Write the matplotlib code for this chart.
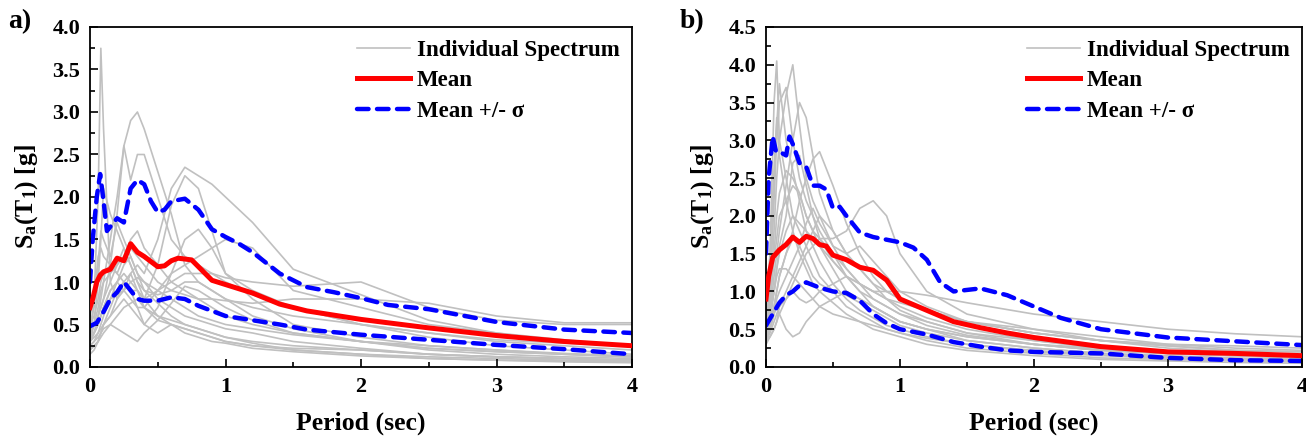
import matplotlib
matplotlib.use("Agg")
import matplotlib.pyplot as plt
from matplotlib.ticker import MultipleLocator

plt.rcParams['font.family'] = ['Liberation Serif', 'DejaVu Sans']
plt.rcParams['font.weight'] = 'bold'
plt.rcParams['mathtext.fontset'] = 'custom'
plt.rcParams['mathtext.rm'] = 'Liberation Serif:bold'
plt.rcParams['mathtext.it'] = 'Liberation Serif:bold'
plt.rcParams['mathtext.bf'] = 'Liberation Serif:bold'

# Common period grid for individual spectra
T_ind = [0, 0.03, 0.06, 0.08, 0.1, 0.15, 0.2, 0.25, 0.3, 0.35, 0.4, 0.5, 0.6, 0.7,
         0.8, 0.9, 1.0, 1.2, 1.5, 2.0, 2.5, 3.0, 3.5, 4.0]

spectra_a = [
    [0.3, 0.8, 2.0, 3.75, 2.8, 1.0, 0.8, 0.9, 1.1, 0.9, 0.7, 0.55, 0.5, 0.45, 0.4, 0.35, 0.3, 0.25, 0.2, 0.15, 0.12, 0.1, 0.08, 0.07],
    [0.4, 0.5, 0.6, 0.7, 0.8, 1.2, 1.8, 2.6, 2.9, 3.0, 2.8, 2.3, 1.8, 1.2, 1.0, 0.9, 0.8, 0.6, 0.45, 0.3, 0.22, 0.18, 0.15, 0.12],
    [0.3, 0.4, 0.6, 0.8, 1.0, 1.5, 2.0, 2.6, 2.2, 2.5, 2.5, 2.0, 1.5, 1.3, 1.2, 1.1, 1.0, 0.85, 0.7, 0.5, 0.4, 0.3, 0.25, 0.2],
    [0.3, 0.35, 0.4, 0.45, 0.5, 0.7, 0.9, 1.0, 1.1, 1.2, 1.1, 1.5, 2.1, 2.35, 2.25, 2.15, 2.0, 1.7, 1.15, 0.85, 0.55, 0.4, 0.32, 0.25],
    [0.25, 0.3, 0.4, 0.5, 0.6, 0.8, 1.0, 1.1, 1.0, 0.9, 0.8, 1.2, 1.9, 2.25, 2.1, 1.6, 1.1, 0.9, 0.7, 0.5, 0.35, 0.25, 0.2, 0.15],
    [0.2, 0.25, 0.3, 0.4, 0.5, 0.6, 0.7, 0.8, 0.7, 0.6, 0.5, 0.7, 1.1, 1.5, 1.62, 1.4, 1.1, 0.8, 0.5, 0.35, 0.25, 0.2, 0.15, 0.12],
    [0.3, 0.4, 0.5, 0.6, 0.7, 0.9, 1.0, 0.9, 0.8, 0.7, 0.7, 0.9, 1.1, 1.2, 1.3, 1.4, 1.5, 1.4, 0.9, 0.7, 0.5, 0.4, 0.3, 0.25],
    [0.5, 0.6, 0.8, 1.0, 1.1, 1.2, 1.1, 1.0, 0.9, 0.9, 0.8, 0.9, 1.0, 1.1, 1.1, 1.1, 1.05, 1.0, 0.95, 1.0, 0.7, 0.55, 0.5, 0.5],
    [0.4, 0.5, 0.7, 0.9, 1.0, 1.1, 1.2, 1.3, 1.4, 1.3, 1.2, 1.0, 0.9, 0.85, 0.8, 0.8, 0.78, 0.75, 0.8, 0.8, 0.75, 0.6, 0.52, 0.52],
    [0.5, 0.7, 1.2, 1.6, 1.5, 1.3, 1.7, 1.5, 1.3, 1.1, 1.0, 0.8, 0.7, 0.6, 0.55, 0.5, 0.45, 0.4, 0.3, 0.22, 0.15, 0.12, 0.1, 0.08],
    [0.3, 0.5, 1.0, 1.5, 2.1, 1.8, 1.6, 1.4, 1.2, 1.0, 0.8, 0.6, 0.5, 0.4, 0.35, 0.3, 0.28, 0.22, 0.18, 0.13, 0.1, 0.08, 0.07, 0.06],
    [0.6, 0.8, 1.3, 1.4, 1.3, 1.2, 1.1, 1.3, 1.5, 1.6, 1.4, 1.2, 1.0, 0.9, 0.8, 0.7, 0.6, 0.5, 0.4, 0.3, 0.22, 0.18, 0.15, 0.12],
    [0.2, 0.25, 0.3, 0.35, 0.4, 0.5, 0.6, 0.7, 0.75, 0.8, 0.7, 0.6, 0.55, 0.5, 0.45, 0.4, 0.35, 0.3, 0.25, 0.2, 0.15, 0.12, 0.1, 0.08],
    [0.15, 0.2, 0.3, 0.4, 0.5, 0.6, 0.8, 1.0, 0.9, 0.7, 0.5, 0.4, 0.5, 0.45, 0.4, 0.35, 0.3, 0.25, 0.22, 0.2, 0.15, 0.12, 0.1, 0.08],
    [0.35, 0.4, 0.5, 0.6, 0.7, 0.9, 1.0, 1.2, 1.3, 1.1, 0.9, 0.85, 0.9, 1.0, 1.0, 0.9, 0.8, 0.7, 0.6, 0.5, 0.4, 0.32, 0.28, 0.25],
    [0.25, 0.3, 0.35, 0.4, 0.45, 0.5, 0.45, 0.4, 0.35, 0.3, 0.4, 0.55, 0.75, 0.95, 0.9, 0.8, 0.7, 0.55, 0.4, 0.3, 0.2, 0.15, 0.12, 0.1],
    [0.4, 0.5, 0.6, 0.7, 0.8, 1.0, 1.2, 1.4, 1.2, 1.0, 0.9, 0.75, 0.6, 0.5, 0.45, 0.4, 0.35, 0.28, 0.2, 0.15, 0.1, 0.08, 0.06, 0.05],
    [0.3, 0.4, 0.5, 0.6, 0.7, 0.8, 0.85, 0.9, 1.0, 1.05, 1.0, 0.9, 0.8, 0.7, 0.6, 0.55, 0.5, 0.45, 0.38, 0.3, 0.25, 0.2, 0.16, 0.13],
]

spectra_b = [
    [0.4, 1.5, 3.5, 4.05, 3.0, 2.5, 2.0, 1.8, 1.6, 1.4, 1.2, 1.0, 0.8, 0.7, 0.6, 0.5, 0.45, 0.35, 0.25, 0.18, 0.12, 0.1, 0.08, 0.07],
    [0.5, 1.2, 2.5, 3.2, 3.75, 3.0, 2.6, 2.2, 1.8, 1.6, 1.4, 1.1, 0.9, 0.75, 0.65, 0.55, 0.5, 0.4, 0.3, 0.2, 0.15, 0.12, 0.1, 0.08],
    [0.4, 1.0, 2.2, 3.0, 3.5, 3.7, 3.0, 2.5, 2.2, 2.0, 1.8, 1.5, 1.2, 1.0, 0.8, 0.7, 0.6, 0.5, 0.4, 0.3, 0.22, 0.18, 0.15, 0.12],
    [0.35, 0.8, 1.8, 2.5, 3.0, 3.6, 4.0, 3.2, 2.5, 2.2, 2.0, 1.6, 1.3, 1.1, 0.9, 0.8, 0.7, 0.55, 0.42, 0.3, 0.22, 0.18, 0.15, 0.12],
    [0.4, 0.7, 1.2, 1.5, 1.8, 2.4, 3.0, 3.5, 3.3, 2.8, 2.3, 1.8, 1.5, 1.3, 1.1, 1.0, 0.9, 0.75, 0.6, 0.45, 0.35, 0.28, 0.22, 0.2],
    [0.35, 0.5, 0.8, 1.0, 1.2, 1.5, 1.8, 2.2, 2.5, 2.75, 2.85, 2.4, 1.9, 1.5, 1.2, 1.0, 0.9, 0.75, 0.6, 0.45, 0.35, 0.28, 0.22, 0.2],
    [0.35, 0.4, 0.5, 0.6, 0.7, 0.9, 1.1, 1.3, 1.5, 1.6, 1.7, 1.7, 1.8, 2.1, 2.2, 2.0, 1.5, 1.0, 0.7, 0.5, 0.35, 0.25, 0.2, 0.15],
    [0.5, 0.7, 1.0, 1.3, 1.5, 1.8, 2.0, 1.9, 1.8, 1.7, 1.6, 1.4, 1.2, 1.1, 1.0, 1.0, 1.0, 0.95, 0.85, 0.7, 0.6, 0.5, 0.44, 0.4],
    [0.45, 0.8, 1.5, 2.0, 2.3, 2.6, 2.5, 2.3, 2.0, 1.8, 1.6, 1.3, 1.0, 0.9, 0.8, 0.7, 0.6, 0.5, 0.4, 0.3, 0.25, 0.2, 0.18, 0.16],
    [0.3, 0.5, 0.7, 0.8, 0.7, 0.5, 0.4, 0.45, 0.6, 0.7, 0.8, 0.9, 1.0, 0.9, 0.8, 0.7, 0.6, 0.5, 0.35, 0.25, 0.18, 0.14, 0.11, 0.09],
    [0.4, 0.6, 0.8, 1.0, 1.2, 1.5, 1.7, 1.6, 1.4, 1.2, 1.1, 1.0, 0.95, 0.85, 0.75, 0.65, 0.55, 0.45, 0.35, 0.25, 0.18, 0.15, 0.12, 0.1],
    [0.5, 0.9, 1.4, 1.7, 2.0, 2.2, 2.4, 2.3, 2.0, 1.8, 1.7, 1.5, 1.3, 1.1, 1.0, 0.9, 0.85, 0.75, 0.6, 0.5, 0.4, 0.3, 0.28, 0.25],
    [0.3, 0.4, 0.5, 0.6, 0.8, 1.0, 1.2, 1.4, 1.6, 1.8, 2.0, 1.8, 1.5, 1.3, 1.1, 0.9, 0.75, 0.6, 0.45, 0.3, 0.22, 0.18, 0.15, 0.13],
    [0.35, 0.45, 0.6, 0.7, 0.8, 0.9, 1.0, 0.9, 0.85, 0.9, 1.0, 1.1, 1.2, 1.1, 1.0, 0.9, 0.8, 0.65, 0.5, 0.35, 0.25, 0.2, 0.16, 0.14],
    [0.6, 1.5, 2.6, 3.3, 2.8, 2.2, 1.8, 1.5, 1.3, 1.1, 1.0, 0.85, 0.7, 0.6, 0.5, 0.45, 0.4, 0.3, 0.22, 0.15, 0.1, 0.08, 0.06, 0.05],
    [0.4, 0.6, 1.0, 1.3, 1.6, 2.0, 2.7, 2.8, 2.4, 2.0, 1.7, 1.4, 1.2, 1.0, 0.9, 0.8, 0.7, 0.6, 0.45, 0.35, 0.25, 0.2, 0.17, 0.15],
    [0.4, 0.5, 0.7, 0.9, 1.0, 1.2, 1.4, 1.6, 1.9, 2.1, 1.9, 1.6, 1.5, 1.6, 1.4, 1.2, 1.0, 0.8, 0.6, 0.45, 0.35, 0.3, 0.25, 0.22],
    [0.5, 0.7, 1.0, 1.2, 1.3, 1.3, 1.2, 1.1, 1.0, 0.9, 0.8, 0.7, 0.65, 0.6, 0.55, 0.5, 0.45, 0.38, 0.3, 0.22, 0.16, 0.12, 0.1, 0.08],
]

# Panel a statistics
T_mean_a = [0, 0.02, 0.05, 0.075, 0.1, 0.15, 0.2, 0.25, 0.3, 0.35, 0.4, 0.5, 0.55, 0.6, 0.65,
            0.7, 0.75, 0.8, 0.9, 1.0, 1.2, 1.4, 1.6, 1.8, 2.0, 2.5, 3.0, 3.5, 4.0]
mean_a = [0.7, 0.8, 1.0, 1.08, 1.12, 1.15, 1.28, 1.25, 1.45, 1.35, 1.3, 1.18, 1.19, 1.25, 1.28,
          1.27, 1.26, 1.18, 1.02, 0.97, 0.87, 0.74, 0.66, 0.61, 0.56, 0.46, 0.37, 0.30, 0.25]
T_up_a = [0, 0.02, 0.05, 0.075, 0.1, 0.125, 0.15, 0.2, 0.25, 0.3, 0.35, 0.4, 0.45, 0.5, 0.55, 0.6,
          0.7, 0.8, 0.9, 1.0, 1.1, 1.2, 1.4, 1.6, 1.8, 2.0, 2.2, 2.5, 3.0, 3.5, 4.0]
up_a = [1.0, 1.5, 2.0, 2.27, 1.95, 1.6, 1.65, 1.75, 1.7, 2.1, 2.2, 2.15, 1.95, 1.82, 1.85, 1.95,
        1.98, 1.85, 1.62, 1.53, 1.45, 1.35, 1.10, 0.94, 0.88, 0.81, 0.73, 0.68, 0.53, 0.44, 0.40]
T_lo_a = [0, 0.05, 0.1, 0.15, 0.2, 0.25, 0.3, 0.35, 0.4, 0.5, 0.6, 0.7, 0.8, 0.9, 1.0, 1.2, 1.4,
          1.6, 1.8, 2.0, 2.5, 3.0, 3.5, 4.0]
lo_a = [0.48, 0.52, 0.65, 0.80, 0.88, 1.0, 0.90, 0.80, 0.78, 0.78, 0.82, 0.80, 0.72, 0.66, 0.60,
        0.55, 0.50, 0.44, 0.41, 0.38, 0.32, 0.26, 0.21, 0.15]

# Panel b statistics
T_mean_b = [0, 0.02, 0.05, 0.1, 0.15, 0.2, 0.25, 0.3, 0.35, 0.4, 0.45, 0.5, 0.6, 0.7, 0.8, 0.9,
            1.0, 1.2, 1.4, 1.6, 1.8, 2.0, 2.5, 3.0, 3.5, 4.0]
mean_b = [0.9, 1.2, 1.45, 1.55, 1.62, 1.72, 1.65, 1.73, 1.70, 1.62, 1.60, 1.48, 1.42, 1.32, 1.28,
          1.15, 0.90, 0.75, 0.60, 0.52, 0.45, 0.39, 0.27, 0.20, 0.18, 0.15]
T_up_b = [0, 0.02, 0.05, 0.075, 0.1, 0.15, 0.175, 0.2, 0.25, 0.3, 0.35, 0.4, 0.45, 0.5, 0.55, 0.6,
          0.7, 0.8, 1.0, 1.1, 1.2, 1.3, 1.4, 1.6, 1.8, 2.0, 2.2, 2.5, 3.0, 3.5, 4.0]
up_b = [1.5, 2.5, 3.05, 2.85, 2.85, 2.8, 3.05, 2.95, 2.7, 2.65, 2.4, 2.4, 2.35, 2.1, 2.12, 2.0,
        1.78, 1.72, 1.65, 1.58, 1.42, 1.12, 1.0, 1.04, 0.95, 0.80, 0.65, 0.50, 0.39, 0.34, 0.29]
T_lo_b = [0, 0.05, 0.1, 0.15, 0.2, 0.25, 0.3, 0.4, 0.5, 0.6, 0.7, 0.8, 0.9, 1.0, 1.2, 1.4, 1.6,
          1.8, 2.0, 2.5, 3.0, 3.5, 4.0]
lo_b = [0.55, 0.7, 0.85, 0.95, 1.0, 1.08, 1.12, 1.05, 1.0, 0.98, 0.88, 0.70, 0.58, 0.50, 0.43,
        0.33, 0.27, 0.22, 0.20, 0.18, 0.12, 0.09, 0.08]

GRAY = '#c0c0c0'
RED = '#ff0000'
BLUE = '#0000ff'

fig = plt.figure(figsize=(13.06, 4.37), dpi=100)
W, H = 1306, 437
ax_a = fig.add_axes([90 / W, 1 - 367 / H, 542 / W, 340 / H])
ax_b = fig.add_axes([766 / W, 1 - 367 / H, 536 / W, 340 / H])


def draw(ax, spectra, Tm, m, Tu, u, Tl, l, ymax):
    for i, s in enumerate(spectra):
        ax.plot(T_ind, s, color=GRAY, lw=1.2,
                label='Individual Spectrum' if i == 0 else None, zorder=1)
    ax.plot(Tm, m, color=RED, lw=3.6, label='Mean', zorder=3)
    ax.plot(Tu, u, color=BLUE, lw=3.2, ls=(0, (2.6, 1.9)), dash_capstyle='round',
            label='Mean +/- σ', zorder=2)
    ax.plot(Tl, l, color=BLUE, lw=3.2, ls=(0, (2.6, 1.9)), dash_capstyle='round', zorder=2)
    ax.set_xlim(0, 4)
    ax.set_ylim(0, ymax)
    ax.xaxis.set_major_locator(MultipleLocator(1))
    ax.xaxis.set_minor_locator(MultipleLocator(0.5))
    ax.yaxis.set_major_locator(MultipleLocator(0.5))
    ax.yaxis.set_minor_locator(MultipleLocator(0.25))
    ax.yaxis.set_major_formatter(plt.FuncFormatter(lambda v, p: f'{v:.1f}'))
    ax.tick_params(which='both', direction='in', top=False, right=False, width=1.2,
                   labelsize=16)
    ax.tick_params(which='major', length=6)
    ax.tick_params(which='minor', length=3.5)
    ax.tick_params(axis='x', pad=7)
    ax.tick_params(axis='y', pad=7)
    for sp in ax.spines.values():
        sp.set_linewidth(1.3)
    ax.set_xlabel('Period (sec)', fontsize=18.5, fontweight='bold', labelpad=11)
    ax.set_ylabel(r'$\mathrm{S_a(T_1)}$ [g]', fontsize=18.5, fontweight='bold', labelpad=9)
    leg = ax.legend(loc='upper right', frameon=False, fontsize=16.5, handlelength=2.3,
                    handletextpad=0.3, labelspacing=0.42, borderaxespad=0.15,
                    bbox_to_anchor=(1.0, 1.0))
    for t in leg.get_texts():
        t.set_fontweight('bold')


draw(ax_a, spectra_a, T_mean_a, mean_a, T_up_a, up_a, T_lo_a, lo_a, 4.0)
draw(ax_b, spectra_b, T_mean_b, mean_b, T_up_b, up_b, T_lo_b, lo_b, 4.5)

fig.text(8 / W, 1 - 22 / H, 'a)', fontsize=20, fontweight='bold', va='center')
fig.text(680 / W, 1 - 22 / H, 'b)', fontsize=20, fontweight='bold', va='center')

fig.savefig('out.png', dpi=100)
